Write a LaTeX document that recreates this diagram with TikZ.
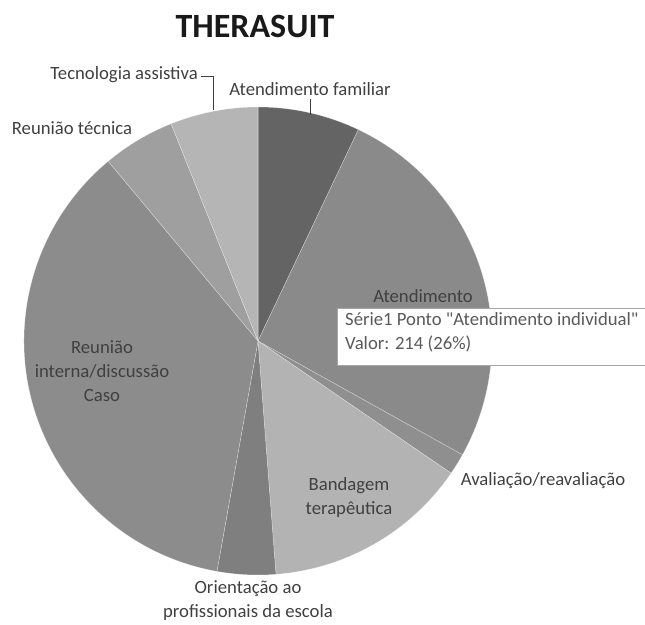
\documentclass[tikz,border=0pt]{standalone}
\usepackage{fontspec}
\setmainfont{Carlito}
\newfontfamily\tipfont{Carlito}
\usepackage{tikz}

\definecolor{famcol}{HTML}{646464}
\definecolor{indcol}{HTML}{8A8A8A}
\definecolor{avacol}{HTML}{8F8F8F}
\definecolor{bancol}{HTML}{B3B3B3}
\definecolor{oricol}{HTML}{7F7F7F}
\definecolor{reucol}{HTML}{8C8C8C}
\definecolor{teccol}{HTML}{9F9F9F}
\definecolor{tnlcol}{HTML}{B5B5B5}
\definecolor{labelgray}{HTML}{404040}
\definecolor{tipgray}{HTML}{5A5A5A}

\begin{document}
\begin{tikzpicture}[x=1pt, y=1pt,
  slice/.style={draw=white, draw opacity=0.4, line width=0.5pt},
  lbl/.style={text=labelgray, font=\fontsize{18.7}{24}\selectfont, align=center, inner sep=0pt},
  leader/.style={draw=black!75, line width=1pt}]
\useasboundingbox (-258,-283) rectangle (387,341);

% Drawing title
\node[font=\fontsize{34}{40}\bfseries\selectfont, text=black!90] (title) at (-3,315) {THERASUIT};

% Drawing pie slices
\filldraw[slice, fill=famcol] (0,0) -- (90:234) arc (90:64.6:234) -- cycle;
\filldraw[slice, fill=indcol] (0,0) -- (64.6:234) arc (64.6:-29.1:234) -- cycle;
\filldraw[slice, fill=avacol] (0,0) -- (-29.1:234) arc (-29.1:-34.4:234) -- cycle;
\filldraw[slice, fill=bancol] (0,0) -- (-34.4:234) arc (-34.4:-85.6:234) -- cycle;
\filldraw[slice, fill=oricol] (0,0) -- (-85.6:234) arc (-85.6:-100.1:234) -- cycle;
\filldraw[slice, fill=reucol] (0,0) -- (-100.1:234) arc (-100.1:-230.2:234) -- cycle;
\filldraw[slice, fill=teccol] (0,0) -- (-230.2:234) arc (-230.2:-248.2:234) -- cycle;
\filldraw[slice, fill=tnlcol] (0,0) -- (-248.2:234) arc (-248.2:-270:234) -- cycle;

% Drawing labels
\node[lbl, anchor=east] (tnl) at (-60,266) {Tecnologia assistiva};
\node[lbl] (fam) at (52,252) {Atendimento familiar};
\node[lbl] (tec) at (-186,213) {Reunião técnica};
\node[lbl] (ind) at (165,45) {Atendimento};
\node[lbl] (reu) at (-156,-30) {Reunião\\interna/discussão\\Caso};
\node[lbl] (ban) at (91,-157) {Bandagem\\terapêutica};
\node[lbl] (ava) at (285,-140) {Avaliação/reavaliação};
\node[lbl] (ori) at (-10,-260) {Orientação ao\\profissionais da escola};

% Drawing leader lines
\coordinate (tnlpt) at (101:235);
\coordinate (fampt) at (77:232);
\draw[leader] ([xshift=3pt,yshift=-2pt]tnl.east) -| (tnlpt);
\draw[leader] ([yshift=-3pt]fampt |- fam.south) -- (fampt);

% Drawing tooltip
\fill[white] (79,33) rectangle (390,-24);
\draw[draw=black!35, line width=0.8pt] (390,33) -- (79,33) -- (79,-24) -- (390,-24);
\node[anchor=west, inner sep=0pt, text=tipgray, font=\tipfont\fontsize{18.7}{24}\selectfont, align=left] (tip) at (87,8.5)
  {Série1 Ponto "Atendimento individual"\\Valor: 214 (26\%)};
\end{tikzpicture}
\end{document}
